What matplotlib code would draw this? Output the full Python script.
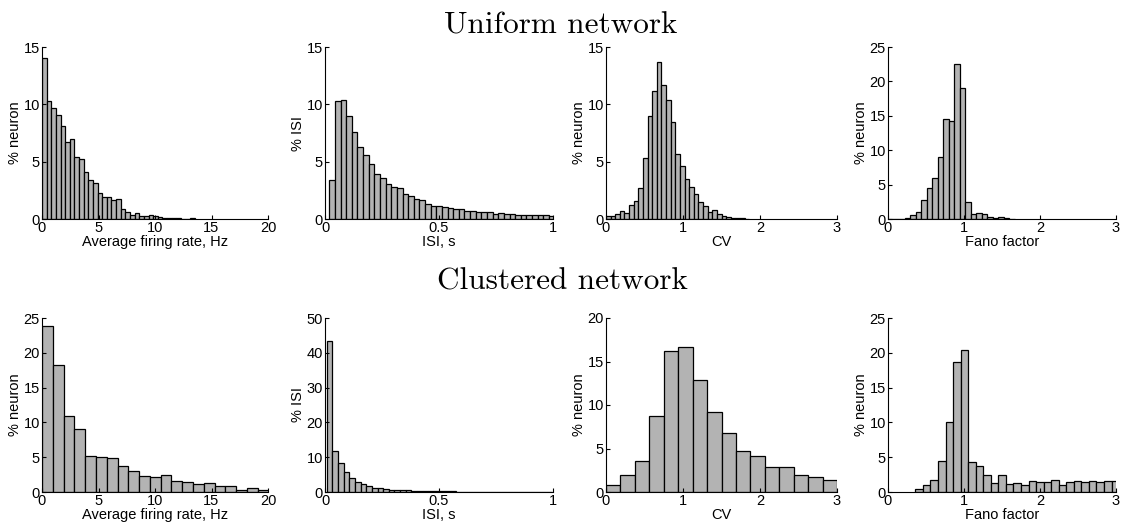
import numpy as np
from matplotlib import pyplot as plt

plt.rcParams.update({'font.family': ['Liberation Sans', 'DejaVu Sans'], 'font.size': 10.5})

# bar heights, %
uni_rate = [14.0, 10.3, 9.68, 9.06, 8.1, 6.75, 7.02, 5.41, 5.23, 4.06, 3.36, 3.13, 2.31, 1.96,
            1.96, 1.67, 1.78, 0.91, 0.61, 0.38, 0.5, 0.26, 0.26, 0.35, 0.29, 0.2, 0.09, 0.06,
            0.06, 0.05, 0, 0, 0.05]
uni_isi = [3.43, 10.3, 10.35, 9.0, 7.57, 6.29, 5.57, 4.77, 3.94, 3.6, 3.09, 2.8, 2.69, 2.14,
           2.0, 1.77, 1.63, 1.29, 1.14, 1.14, 1.03, 0.94, 0.86, 0.86, 0.74, 0.69, 0.6, 0.57,
           0.57, 0.46, 0.54, 0.43, 0.43, 0.37, 0.37, 0.34, 0.34, 0.31, 0.34, 0.26]
uni_cv = [0.3, 0.3, 0.4, 0.66, 0.55, 1.2, 1.6, 2.67, 5.3, 8.97, 11.15, 13.68, 11.72, 10.4,
          8.48, 5.69, 4.6, 3.45, 2.79, 2.18, 1.47, 1.15, 0.57, 0.8, 0.4, 0.23, 0.14, 0.1,
          0.09, 0.05, 0.02]
uni_fano = [0, 0, 0, 0.1, 0.53, 0.96, 2.83, 4.5, 6.03, 9.0, 14.6, 14.18, 22.46, 19.1, 2.54,
            0.67, 0.91, 0.77, 0.29, 0.15, 0.34, 0.1, 0.05]

clu_rate = [23.9, 18.2, 10.9, 9.08, 5.18, 5.03, 4.88, 3.71, 3.03, 2.25, 2.2, 2.39, 1.51, 1.37,
            1.12, 1.27, 0.93, 0.93, 0.34, 0.63, 0.24]
clu_isi = [43.5, 11.8, 8.27, 5.67, 3.94, 2.98, 2.4, 1.73, 1.25, 1.06, 0.87, 0.67, 0.58, 0.5,
           0.45, 0.38, 0.35, 0.3, 0.27, 0.22, 0.2, 0.18, 0.16, 0.14, 0.13, 0.12, 0.1, 0.1,
           0.09, 0.08, 0.08, 0.07, 0.07, 0.06, 0.06, 0.05, 0.05, 0.05, 0.04, 0.04]
clu_cv = [0.8, 1.99, 3.56, 8.77, 16.24, 16.7, 12.9, 9.2, 6.82, 4.71, 4.14, 2.87, 2.91, 1.95,
          1.76, 1.38]
clu_fano = [0.38, 0.96, 1.77, 4.45, 10.06, 18.68, 20.4, 4.31, 3.69, 2.49, 1.34, 2.39, 1.2,
            1.34, 0.96, 1.63, 1.48, 1.44, 1.77, 0.96, 1.44, 1.63, 1.44, 1.58, 1.39, 1.63, 1.53]

xlabels = ['Average firing rate, Hz', 'ISI, s', 'CV', 'Fano factor']
ylabels = ['% neuron', '% ISI', '% neuron', '% neuron']
xticks = [[0, 5, 10, 15, 20], [0, 0.5, 1], [0, 1, 2, 3], [0, 1, 2, 3]]
xticklabels = [['0', '5', '10', '15', '20'], ['0', '0.5', '1'], ['0', '1', '2', '3'], ['0', '1', '2', '3']]
xlims = [20, 1, 3, 3]
uni_ymax = [15, 15, 15, 25]
clu_ymax = [25, 50, 20, 25]
clu_ystep = [5, 10, 5, 5]

# histogram bins: (first edge, bin width)
uni_bins = [(0, 0.41), (0.019, 0.0247), (0, 0.06), (0, 0.0725)]
clu_bins = [(0, 0.955), (0.008, 0.0247), (0, 0.1875), (0.36, 0.0993)]

fig = plt.figure(figsize=(11.23, 5.23), dpi=100)

lefts = [42, 325, 606, 888]
rights = [268, 553, 837, 1116]
W, H = 1123., 523.


def panel(rect, heights, bins, col, ymax, ystep):
    ax = fig.add_axes(rect)
    x0, w = bins
    left = x0 + w * np.arange(len(heights))
    ax.bar(left, heights, w, align='edge', color='0.7', edgecolor='k', linewidth=0.9)
    ax.set_xlim(0, xlims[col])
    ax.set_ylim(0, ymax)
    ax.set_yticks(np.arange(0, ymax + 1, ystep))
    ax.set_xticks(xticks[col])
    ax.set_xticklabels(xticklabels[col])
    ax.set_xlabel(xlabels[col], labelpad=0)
    ax.set_ylabel(ylabels[col], labelpad=1)
    ax.tick_params(direction='in', length=3, width=0.8, pad=1.5, labelsize=10.5)
    for pos in ['right', 'top']:
        ax.spines[pos].set_visible(False)
    return ax


for i in range(4):
    l = lefts[i] / W
    w = (rights[i] - lefts[i]) / W
    panel([l, 1 - 219 / H, w, 172 / H], [uni_rate, uni_isi, uni_cv, uni_fano][i], uni_bins[i],
          i, uni_ymax[i], 5)
    panel([l, 1 - 492 / H, w, 174 / H], [clu_rate, clu_isi, clu_cv, clu_fano][i], clu_bins[i],
          i, clu_ymax[i], clu_ystep[i])

fig.text(0.499, 1 - 33 / H, 'Uniform network', family='cmr10', fontsize=22.5, ha='center', va='baseline')
fig.text(0.501, 1 - 290 / H, 'Clustered network', family='cmr10', fontsize=22.5, ha='center', va='baseline')

plt.savefig('out.png', dpi=100)
